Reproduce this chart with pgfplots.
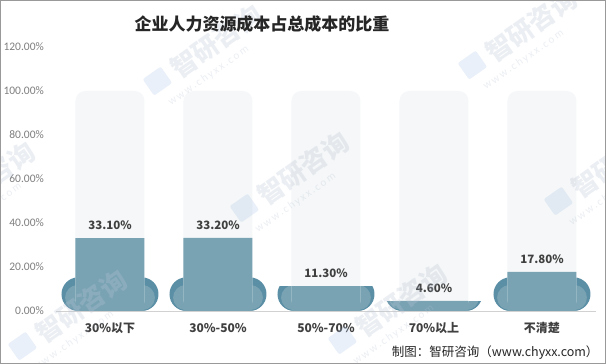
\documentclass[border=0pt]{standalone}
\usepackage{fontspec}
\setmainfont{Carlito}
\newfontfamily\cjk{Noto Sans CJK SC}
\usepackage{pgfplots}
\pgfplotsset{compat=1.18}
\definecolor{mainc}{HTML}{79A3B3}
\definecolor{darkc}{HTML}{5B8FA5}
\definecolor{bgc}{HTML}{F5F7F8}
\definecolor{tickc}{HTML}{7F7F7F}
\definecolor{labc}{HTML}{404040}
\definecolor{wmc}{HTML}{B8C4D4}
\definecolor{wml}{HTML}{A9C4E8}
\begin{document}
\begin{tikzpicture}
\useasboundingbox (0,0) rectangle (606pt,364pt);
\fill[white] (0,0) rectangle (606pt,364pt);
\begin{axis}[at={(56pt,53pt)}, anchor=south west, scale only axis,
  width=540pt, height=264pt, xmin=-0.5, xmax=4.5, ymin=0, ymax=120,
  axis lines*=left, y axis line style={draw=none},
  x axis line style={draw=black!18, line width=0.8pt},
  major tick length=0pt, xtick={0,...,4},
  xticklabels={30\%以下,30\%-50\%,50\%-70\%,70\%以上,不清楚},
  ytick={0,20,...,120},
  yticklabel={\pgfmathprintnumber[fixed,fixed zerofill,precision=2]{\tick}\%},
  /pgf/number format/assume math mode=true,
  yticklabel style={anchor=east, inner sep=0pt, xshift=-12pt, font=\fontsize{11.5}{13}\selectfont, text=tickc},
  xticklabel style={anchor=center, inner sep=0pt, yshift=-17pt, font=\cjk\bfseries\fontsize{12}{14}\selectfont, text=labc},
  clip=false]
% dark base pills
\addplot[ybar, bar width=97pt, bar shift=0pt, fill=darkc, draw=none, rounded corners=16.8pt]
  coordinates {(0,15.3)(1,15.3)(2,15.3)(3,15.3)(4,15.3)};
% lighter lower part (horizontal stadium)
\addplot[draw=none, mark=none, error bars/.cd, x dir=both, x explicit, error mark=none,
  error bar style={draw=mainc, line width=25pt, line cap=round}]
  coordinates {(0,6.0) +- (0.30,0) (1,6.0) +- (0.30,0) (2,6.0) +- (0.30,0) (3,6.0) +- (0.30,0) (4,6.0) +- (0.30,0)};
% cut the pills at the bar value where the value is lower
\addplot[draw=none, mark=none, error bars/.cd, y dir=plus, y explicit, error mark=none,
  error bar style={draw=white, line width=100pt, line cap=butt}]
  coordinates {(2,11.3) +- (0,6) (3,4.6) +- (0,12)};
% background bars
\addplot[ybar, bar width=69pt, bar shift=0pt, fill=bgc, draw=none, rounded corners=10pt]
  coordinates {(0,100)(1,100)(2,100)(3,100)(4,100)};
% main bars
\addplot[ybar, bar width=69pt, bar shift=0pt, fill=mainc, draw=none,
  nodes near coords={\pgfmathprintnumber[fixed,fixed zerofill,precision=2]{\pgfplotspointmeta}\%},
  every node near coord/.append style={anchor=center, yshift=13pt, font=\cjk\bfseries\fontsize{11.5}{13}\selectfont, text=labc}]
  coordinates {(0,33.1)(1,33.2)(2,11.3)(3,4.6)(4,17.8)};
\end{axis}
% watermark tiles
\foreach \x/\y in {-42/200, 185/63, 272/190, 50/328, 370/322, 500/47, 586/183}{
  \begin{scope}[shift={(\x pt, 364pt-\y pt)}, rotate=35, transform shape]
    \node[anchor=west, inner sep=0pt, text=wmc, opacity=0.28, font=\cjk\bfseries\fontsize{26}{26}\selectfont] at (-14pt,0) {智研咨询};
    \node[anchor=west, inner sep=0pt, text=wmc, opacity=0.28, font=\fontsize{11}{11}\selectfont] at (-36pt,-24pt) {w\,w\,w\,.\,c\,h\,y\,x\,x\,.\,c\,o\,m};
    \fill[wml, opacity=0.25, rounded corners=2pt] (-44pt,-9pt) rectangle (-22pt,11pt);
  \end{scope}
}
\node[font=\cjk\bfseries\fontsize{17}{20}\selectfont, text=black!85] at (262pt,340pt) {企业人力资源成本占总成本的比重};
\node[anchor=east, font=\cjk\fontsize{12.5}{14}\selectfont, text=black!85] at (602pt,11pt) {制图：智研咨询（www.chyxx.com）};
\draw[black!40, line width=1pt] (0.5pt,0.5pt) rectangle (605.5pt,363.5pt);
\end{tikzpicture}
\end{document}
